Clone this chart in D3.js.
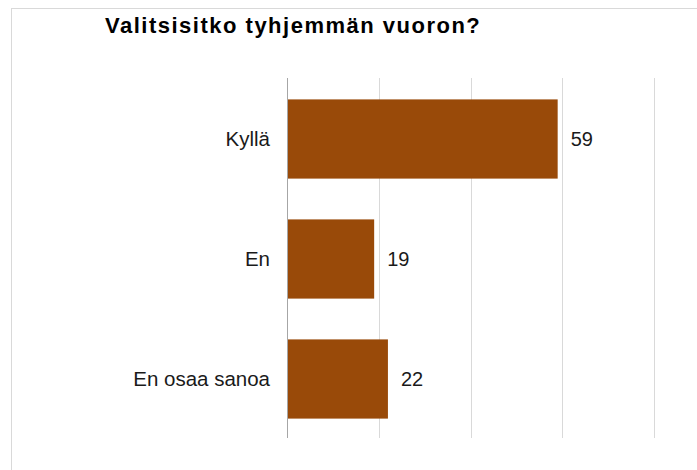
<!DOCTYPE html>
<html><head><meta charset="utf-8">
<script src="https://cdn.jsdelivr.net/npm/d3@7"></script>
<style>body{margin:0;background:#fff}svg{display:block}</style>
</head><body>
<svg id="c" width="697" height="470"></svg>
<script>
const title = "Valitsisitko tyhjemmän vuoron?";
const categories = ["Kyllä", "En", "En osaa sanoa"];
const values = [59, 19, 22];
const xTicks = [0, 20, 40, 60, 80];

const svg = d3.select("#c");
const font = "'Liberation Sans', Arial, sans-serif";

// frame
svg.append("rect").attr("x", 11.5).attr("y", 8.5).attr("width", 700).attr("height", 480)
  .attr("fill", "#fff").attr("stroke", "#d9d9d9").attr("stroke-width", 1);

const x = d3.scaleLinear().domain([0, 80]).range([287, 654]);
const y = d3.scaleBand().domain(categories).range([79, 439]).paddingInner(0.34).paddingOuter(0.17);

// gridlines
svg.append("g").selectAll("line").data(xTicks.slice(1)).join("line")
  .attr("x1", d => Math.round(x(d)) + 0.5).attr("x2", d => Math.round(x(d)) + 0.5)
  .attr("y1", 78).attr("y2", 438).attr("stroke", "#d9d9d9").attr("stroke-width", 1);

// bars
svg.append("g").selectAll("rect").data(values).join("rect")
  .attr("x", x(0)).attr("y", (d, i) => y(categories[i]))
  .attr("width", d => x(d) - x(0)).attr("height", y.bandwidth())
  .attr("fill", "#994a09");

// axis line
svg.append("line").attr("x1", 287.5).attr("x2", 287.5).attr("y1", 78).attr("y2", 438)
  .attr("stroke", "#a6a6a6").attr("stroke-width", 1);

// category labels
svg.append("g").selectAll("text").data(categories).join("text")
  .attr("x", 270).attr("y", d => y(d) + y.bandwidth() / 2)
  .attr("dy", "0.36em").attr("text-anchor", "end")
  .attr("font-family", font).attr("font-size", 20.5).attr("fill", "#1a1a1a")
  .text(d => d);

// value labels
svg.append("g").selectAll("text").data(values).join("text")
  .attr("x", d => x(d) + 13).attr("y", (d, i) => y(categories[i]) + y.bandwidth() / 2)
  .attr("dy", "0.36em")
  .attr("font-family", font).attr("font-size", 20).attr("fill", "#1a1a1a")
  .text(d => d);

// title
svg.append("text").attr("x", 105).attr("y", 33)
  .attr("font-family", font).attr("font-size", 22).attr("font-weight", "bold")
  .attr("letter-spacing", 1.5).attr("fill", "#000")
  .text(title);
</script>
</body></html>
